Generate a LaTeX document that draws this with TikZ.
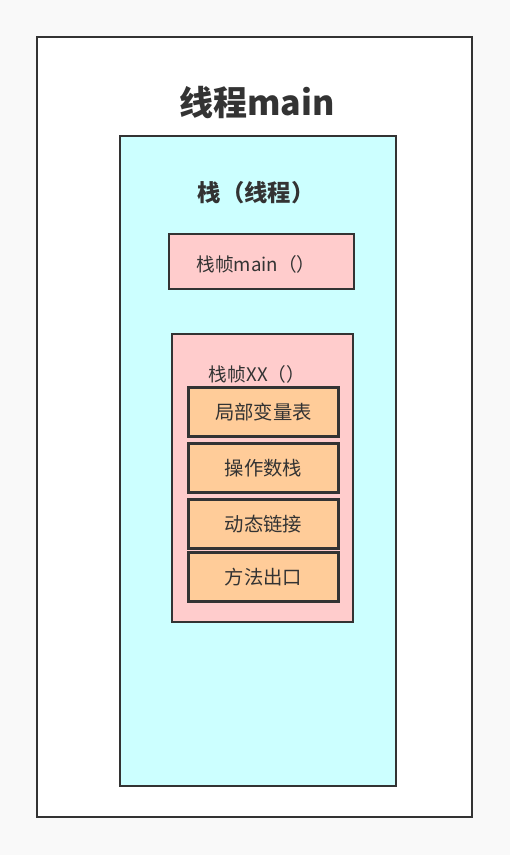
\documentclass[tikz,border=0pt]{standalone}
\usepackage{fontspec}
\setmainfont{Noto Sans CJK SC}
\definecolor{bg}{HTML}{F9F9F9}
\definecolor{edge}{HTML}{333333}
\definecolor{cyanfill}{HTML}{CCFFFF}
\definecolor{pinkfill}{HTML}{FFCCCC}
\definecolor{orangefill}{HTML}{FFCC99}
\tikzset{
  box/.style={draw=edge, line width=2pt},
  label/.style={text=edge, inner sep=0pt, anchor=center},
  item/.style={draw=edge, line width=2pt, fill=orangefill, minimum width=112.5pt, minimum height=36.75pt, inner sep=0pt, text=edge, font=\fontsize{14.5pt}{17pt}\selectfont, anchor=north west},
}
\begin{document}
\begin{tikzpicture}[x=0.75pt,y=-0.75pt]
\fill[bg] (0,0) rectangle (510,855);
\useasboundingbox (0,0) rectangle (510,855);
\draw[box, fill=white] (37,37) rectangle (472,817);
\node[label, font=\bfseries\fontsize{25.5pt}{30pt}\selectfont] (title) at (257,103) {线程main};
\draw[box, fill=cyanfill] (120,136) rectangle (396,786);
\node[label, font=\bfseries\fontsize{17.5pt}{20pt}\selectfont] (stack) at (256,193) {栈（线程）};
\draw[box, fill=pinkfill] (169,234) rectangle (354,289);
\node[label, font=\fontsize{14pt}{16pt}\selectfont] (fmain) at (256,264) {栈帧main（）};
\draw[box, fill=pinkfill] (172,334) rectangle (353,622);
\node[label, font=\fontsize{14pt}{16pt}\selectfont] (fxx) at (257,374) {栈帧XX（）};
\node[item] (a) at (187,386) {局部变量表};
\node[item] (b) at (187,442) {操作数栈};
\node[item] (c) at (187,498) {动态链接};
\node[item] (d) at (187,551) {方法出口};
\end{tikzpicture}
\end{document}
